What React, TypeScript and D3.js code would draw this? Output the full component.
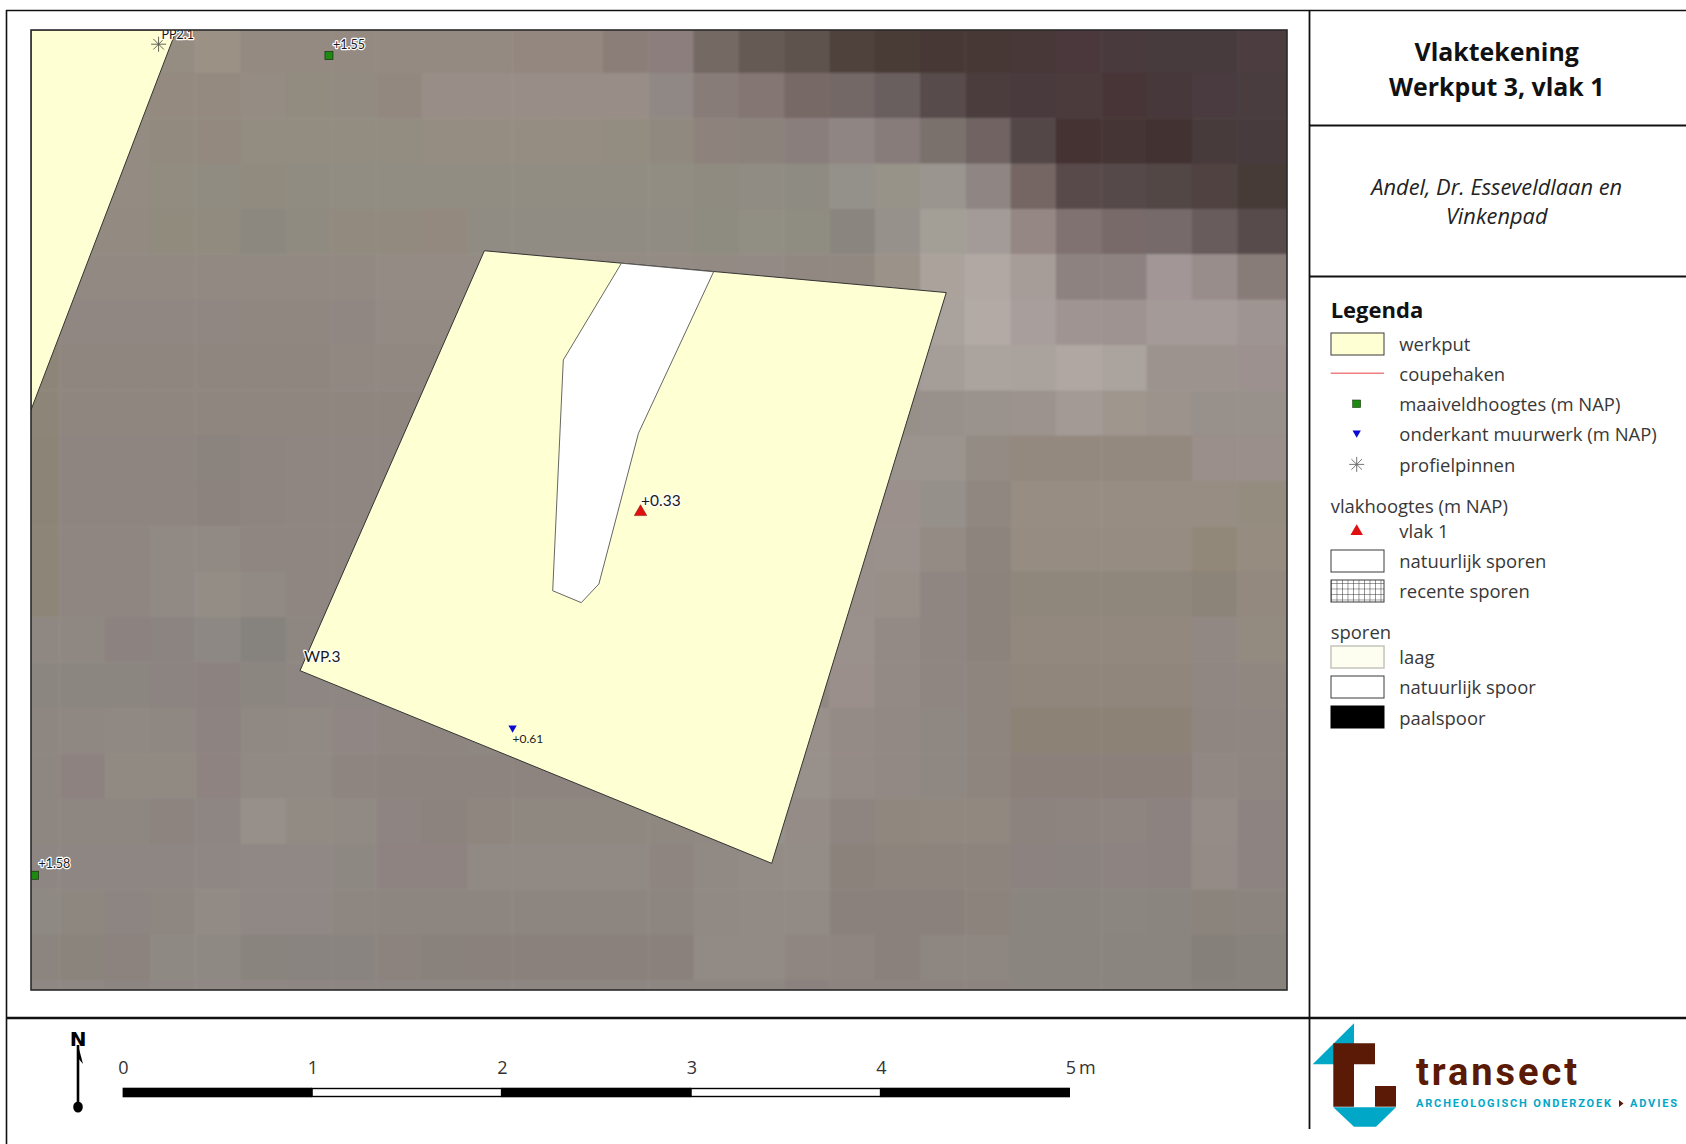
import React from "react";
import * as d3 from "d3";

// ---------- title panel text ----------
const titleLines = ["Vlaktekening", "Werkput 3, vlak 1"];
const subtitleLines = ["Andel, Dr. Esseveldlaan en", "Vinkenpad"];

// ---------- map geometry, metres within the map frame ----------
const mapWidthM = 6.635;
const mapHeightM = 5.071;
const werkputMain: [number, number][] = [[2.395, 3.905], [4.835, 3.684], [3.913, 0.669], [1.421, 1.687]];
const werkputWest: [number, number][] = [[0, 5.071], [0.768, 5.071], [0, 3.064]];
const naturalTrace: [number, number][] = [[3.119, 3.839], [3.606, 3.794], [3.209, 2.941], [3.0, 2.145], [2.907, 2.046], [2.756, 2.109], [2.812, 3.328]];
const maaiveldPoints = [{ x: 1.574, y: 4.936, label: "+1.55" }, { x: 0.018, y: 0.606, label: "+1.58" }];
const muurwerkPoints = [{ x: 2.544, y: 1.384, label: "+0.61" }];
const vlakPoints = [{ x: 3.22, y: 2.525, label: "+0.33" }];
const pinPoints = [{ x: 0.674, y: 4.996, label: "PP2.1" }];
const putLabels = [{ x: 1.442, y: 1.766, label: "WP.3" }];

// ---------- scale bar ----------
const scaleTicks = [0, 1, 2, 3, 4, 5];

// ---------- legend ----------
const legendTopEntries = ["werkput", "coupehaken", "maaiveldhoogtes (m NAP)", "onderkant muurwerk (m NAP)", "profielpinnen"];
const legendVlakEntries = ["vlak 1", "natuurlijk sporen", "recente sporen"];
const legendSporenEntries = ["laag", "natuurlijk spoor", "paalspoor"];

// ---------- background raster, one list per row of cells ----------
const r00 = ["#958c82","#958c82","#968d82","#968d82","#9b9185","#958a82","#958a82","#958a82","#958a82","#958a82","#958a82","#948780","#948780","#8b7e78","#8c7e7b","#756964","#665a55","#5f524d","#4f423e","#483a36","#473936","#463734","#483838","#4b393d","#493a3e","#463a3d","#463a3e","#4b3e41"];
const r01 = ["#958c82","#958c82","#958c82","#948a7f","#948a7f","#958c83","#918b80","#918b82","#938880","#988e87","#988e87","#988e87","#988e87","#988e87","#908884","#887c78","#837673","#766966","#736866","#6a5f5e","#594c4b","#4b3e3e","#4a3a3c","#4b3a3c","#473638","#47383a","#483b3f","#483c40"];
const r02 = ["#948b82","#948b82","#948b82","#928a7f","#93897f","#928c81","#928c81","#928c81","#928c81","#958d82","#958d82","#958d82","#958d82","#938c81","#90897f","#8e837c","#8c827c","#897e7b","#8f8582","#877c7a","#7a716d","#6f6462","#534746","#443232","#453534","#433332","#463a3b","#463b3e"];
const r03 = ["#948b82","#948b82","#948b82","#928c80","#918c81","#918a7f","#908c82","#918d83","#918d83","#918d83","#918d83","#918d83","#918d83","#918d83","#918d83","#8f8b81","#908c83","#8e8b82","#94908a","#979389","#9a968f","#8f8683","#746664","#594a4b","#544948","#524644","#4f4341","#463a38"];
const r04 = ["#938a82","#938a82","#938a82","#918b7e","#908b7e","#8c8880","#908b80","#928a7e","#928a7e","#94897f","#918c83","#918c83","#918c83","#918c83","#918c83","#8e8b80","#918e84","#8f8c82","#8a867f","#96918a","#a39f97","#a39b97","#958784","#7f7271","#776a69","#766a6a","#685c5d","#584c4c"];
const r05 = ["#918982","#918982","#918982","#918982","#918982","#918982","#918982","#918982","#948b84","#938b84","#938b84","#938b84","#938b84","#938b84","#938b84","#938a83","#948a85","#928882","#928882","#9b938a","#aaa29b","#b1a8a4","#a69c98","#8e8280","#8e8280","#a29696","#998d8b","#887b78"];
const r06 = ["#8f8680","#908782","#908782","#908782","#908782","#8f8780","#8f8780","#908782","#938a84","#938a84","#938a84","#938a84","#938a84","#938a84","#938a84","#938a84","#938a84","#938a84","#958b85","#a09790","#aaa29d","#b3aaa6","#a89e9b","#9f9491","#9e9390","#a49a98","#a49a98","#9e9491"];
const r07 = ["#8e8579","#8f8680","#8f8680","#8f8680","#8f8680","#8f8680","#8f8680","#918882","#918882","#918882","#918882","#918882","#918882","#918882","#918882","#918882","#918882","#918882","#969088","#9d958f","#a59d98","#aba39e","#aaa29d","#b0a6a2","#aba39e","#9d938e","#9d938e","#9c918f"];
const r08 = ["#8e8579","#8f8680","#8f8680","#8f8680","#8f8680","#8f8680","#8f8680","#8f8680","#8f8680","#8f8680","#8f8680","#8f8680","#8f8680","#8f8680","#8f8680","#8f8680","#8f8680","#8f8680","#928a84","#969089","#98908a","#9a928c","#9c938e","#a39a96","#9f968e","#9c938c","#98908a","#98908a"];
const r09 = ["#8d8478","#8e8580","#8e8580","#8e8580","#8b837d","#8e8580","#8f8681","#8f8681","#8f8681","#8f8681","#8f8681","#8f8681","#8f8681","#8f8681","#8f8681","#8f8681","#8f8681","#928a85","#958c87","#9b938d","#9b938d","#938b84","#94897e","#94897e","#94897e","#94897e","#9a8f8a","#9a8f8a"];
const r10 = ["#8d8478","#8e8580","#8e8580","#8e8580","#8c837e","#8e8580","#8f8681","#8f8681","#8f8681","#8f8681","#8f8681","#8f8681","#8f8681","#8f8681","#8f8681","#8f8681","#8f8681","#958c87","#9a908b","#9b908b","#96908a","#8f8780","#978d82","#978d82","#978d82","#978d82","#978d82","#958c80"];
const r11 = ["#8e8579","#8f8681","#8f8681","#918983","#918983","#8f8681","#8f8681","#8f8681","#8f8681","#8f8681","#8f8681","#8f8681","#8f8681","#8f8681","#8f8681","#8f8681","#8f8681","#958c87","#9a908b","#9b918c","#948b85","#8c847d","#968c81","#968c81","#968c81","#968c81","#918879","#968c80"];
const r12 = ["#8e8579","#8f8681","#8f8681","#918984","#948d86","#918984","#8f8681","#8f8681","#8f8681","#8f8681","#8f8681","#8f8681","#8f8681","#8f8681","#8f8681","#8f8681","#8f8681","#948b86","#9a908b","#988f89","#8f8681","#8c837c","#90877c","#90877c","#90877c","#90877c","#8d8479","#93897e"];
const r13 = ["#8f8882","#8f8882","#8c8380","#8b8481","#8d8883","#86827d","#8e8781","#8f8681","#8f8681","#8f8681","#8f8681","#8f8681","#8f8681","#8f8681","#8f8681","#8f8681","#8f8681","#928984","#9a908c","#938a85","#8f8681","#8c837c","#92887d","#92887d","#92887d","#92887d","#918884","#938a80"];
const r14 = ["#8c8680","#8c8680","#8c8680","#8b8481","#8c8280","#8c8681","#8d8682","#8d8682","#8d8581","#8d8581","#8d8581","#8d8581","#8d8581","#8d8581","#8d8581","#8d8581","#8f8682","#918884","#9a8f8b","#938a85","#8f8681","#8e857f","#90867b","#90867b","#90867b","#90867b","#908783","#908781"];
const r15 = ["#8e8680","#8f8781","#908882","#8f8781","#8d8380","#908882","#918983","#908683","#8f8682","#8e8580","#8e8681","#8e8681","#8e8681","#8e8681","#8e8681","#8f8782","#908883","#9a908b","#948a86","#928985","#8f8782","#8e857f","#8c8276","#8c8276","#8c8276","#8c8276","#8f8682","#8f8682"];
const r16 = ["#8e8680","#8e8281","#918a83","#918a83","#8e8380","#918a84","#918a84","#8e8480","#8d847f","#8d847f","#8d847f","#8d847f","#8d847f","#8d847f","#8d847f","#908883","#938b86","#97908b","#948a86","#928985","#8f8782","#8e857f","#8b807a","#8b807a","#8b807a","#8b807a","#918884","#8f8682"];
const r17 = ["#8e8680","#8e8680","#8e8680","#8d8480","#8d8682","#97908a","#918b84","#918a84","#8e8481","#8c837e","#908680","#8f8881","#8f8881","#8f8881","#8f8881","#908883","#94928c","#958c87","#8e8580","#90877f","#918880","#918880","#8c837f","#8d8480","#8e8581","#8c8380","#958c88","#8d8482"];
const r18 = ["#8e8682","#8e8682","#8e8682","#8e8682","#8f8783","#908884","#908884","#8e8883","#8e8381","#8e8381","#918983","#918983","#918983","#918983","#8e8580","#918983","#938b85","#948c86","#8b827c","#8d847e","#8d847e","#8d847e","#8c8380","#8b8380","#8d8481","#8c8380","#948b87","#8d8482"];
const r19 = ["#8e8983","#8e8780","#8c8581","#8e8680","#918a85","#8f8884","#8f8884","#8e8680","#8d8580","#8d8580","#8d8580","#8d8580","#8d8580","#8d8580","#8d8580","#918983","#928a84","#928a84","#8a817b","#8a817b","#8a817b","#8c837d","#8a857e","#8a857e","#8b867f","#8b857f","#8b847d","#8b847e"];
const r20 = ["#8c857f","#8b847c","#8c827e","#8f8984","#8f8984","#89847e","#8a8480","#8a8480","#8c837e","#89827b","#8a817c","#8a817c","#8a817c","#8a817c","#8a817c","#928a85","#928a85","#8f8681","#8e8580","#8a817c","#8e8680","#8e8680","#8a857e","#8a857e","#8a857e","#8a857e","#86807a","#88827c"];
const r21 = ["#8f8783","#8f8783","#8d8581","#8f8783","#908884","#8f8783","#8e8682","#8e8682","#8e8682","#8e8682","#8e8682","#8e8682","#8e8682","#8e8682","#8e8682","#8e8680","#8e8680","#8b8280","#8d8480","#8d8480","#8d8480","#8d8480","#8a857e","#8a857e","#8a857e","#8a857e","#88827c","#88827c"];
const rasterRows = [r00, r01, r02, r03, r04, r05, r06, r07, r08, r09, r10, r11, r12, r13, r14, r15, r16, r17, r18, r19, r20, r21];

// ---------- layout ----------
const W = 1686, H = 1144;
const MAP = { l: 31, r: 1287, t: 30, b: 990 };
const FONT = "'Open Sans', sans-serif";
const LABEL_FONT = "Lato, sans-serif";
const YELLOW = "#ffffd4";
const GREEN = "#1f8a12";
const BLUE = "#0a0ad0";
const RED = "#e01010";
const BROWN = "#5a1a05";
const CYAN = "#00a7c7";

const xM = d3.scaleLinear().domain([0, mapWidthM]).range([MAP.l, MAP.r]);
const yM = d3.scaleLinear().domain([0, mapHeightM]).range([MAP.b, MAP.t]);
const xCell = d3.scaleLinear().domain([0, 28]).range([14, 1282.4]);
const yCell = d3.scaleLinear().domain([0, 22]).range([27.5, 1025.2]);
const xBar = d3.scaleLinear().domain([0, 5]).range([122.6, 1070]);

const polyPath = d3.line<[number, number]>().x((d) => xM(d[0])).y((d) => yM(d[1])).curve(d3.curveLinearClosed);
const triUp = d3.symbol().type(d3.symbolTriangle);
const spoke = d3.lineRadial<[number, number]>();
function asteriskPath(r: number) {
  return d3.range(4).map((i) => {
    const a = (i * Math.PI) / 4;
    return spoke([[a, r], [a + Math.PI, r]]);
  }).join("");
}

const Halo = ({ x, y, size, children }: any) => (
  <text x={x} y={y} fontFamily={LABEL_FONT} fontSize={size} fill="#1a1a1a" stroke="#ffffff" strokeWidth={2.4}
    strokeLinejoin="round" style={{ paintOrder: "stroke" }} dominantBaseline="central">{children}</text>
);

const LegendText = ({ x = 1399.3, y, children }: any) => (
  <text x={x} y={y} fontFamily={FONT} fontSize={18.45} fill="#383838" dominantBaseline="central">{children}</text>
);

const Swatch = ({ y, h = 22, fill, stroke = "#3a3a3a", sw = 1 }: any) => (
  <rect x={1331} y={y} width={53} height={h} fill={fill} stroke={stroke} strokeWidth={sw} />
);

export default function App() {
  const topY = [343.7, 373, 403.8, 433.8, 464.4];
  const vlakY = [530.8, 560.8, 590.9];
  const sporenY = [656.8, 686.9, 717.4];
  return (
    <svg width={W} height={H} viewBox={`0 0 ${W} ${H}`} style={{ position: "absolute", left: 0, top: 0, background: "#fff" }}>
      <defs>
        <clipPath id="mapClip"><rect x={MAP.l} y={MAP.t} width={MAP.r - MAP.l} height={MAP.b - MAP.t} /></clipPath>
        <filter id="soft" x="-2%" y="-2%" width="104%" height="104%"><feGaussianBlur stdDeviation={0.8} /></filter>
        <pattern id="grid" width={5.5} height={5.5} patternUnits="userSpaceOnUse">
          <path d="M0 0H5.5M0 0V5.5" stroke="#333" strokeWidth={1} fill="none" />
        </pattern>
      </defs>

      {/* map */}
      <g clipPath="url(#mapClip)">
        <g filter="url(#soft)">
          {rasterRows.map((row, j) => row.map((c, i) => (
            <rect key={`${j}-${i}`} x={xCell(i)} y={yCell(j)} width={xCell(i + 1) - xCell(i) + (i === 27 ? 8 : 0.5)}
              height={yCell(j + 1) - yCell(j) + 0.5} fill={c} />
          )))}
        </g>
        <path d={polyPath(werkputWest)!} fill={YELLOW} stroke="#333" strokeWidth={1} />
        <path d={polyPath(werkputMain)!} fill={YELLOW} stroke="#333" strokeWidth={1} />
        <path d={polyPath(naturalTrace)!} fill="#ffffff" stroke="#555" strokeWidth={0.9} />

        {pinPoints.map((p) => (
          <g key={p.label}>
            <path d={asteriskPath(7.5)} transform={`translate(${xM(p.x)},${yM(p.y)})`} stroke="#55554a" strokeWidth={0.9} fill="none" />
            <Halo x={xM(p.x) + 3} y={yM(p.y) - 9.5} size={12.5}>{p.label}</Halo>
          </g>
        ))}
        {maaiveldPoints.map((p) => (
          <g key={p.label}>
            <rect x={xM(p.x) - 4} y={yM(p.y) - 4} width={8} height={8} fill={GREEN} stroke="#1c3a12" strokeWidth={0.8} />
            <Halo x={xM(p.x) + 4} y={yM(p.y) - 11.5} size={12.5}>{p.label}</Halo>
          </g>
        ))}
        {muurwerkPoints.map((p) => (
          <g key={p.label}>
            <path d={triUp.size(30)()!} transform={`translate(${xM(p.x)},${yM(p.y)}) rotate(180)`} fill={BLUE} />
            <text x={xM(p.x)} y={yM(p.y) + 11} fontFamily={LABEL_FONT} fontSize={12} fill="#222" dominantBaseline="central">{p.label}</text>
          </g>
        ))}
        {vlakPoints.map((p) => (
          <g key={p.label}>
            <path d={triUp.size(68)()!} transform={`translate(${xM(p.x)},${yM(p.y)})`} fill={RED} stroke="#7a1010" strokeWidth={0.5} />
            <Halo x={xM(p.x) + 0.5} y={yM(p.y) - 11.8} size={15.5}>{p.label}</Halo>
          </g>
        ))}
        {putLabels.map((p) => (
          <Halo key={p.label} x={xM(p.x)} y={yM(p.y)} size={15.5}>{p.label}</Halo>
        ))}
      </g>
      <rect x={MAP.l} y={MAP.t} width={MAP.r - MAP.l} height={MAP.b - MAP.t} fill="none" stroke="#2a2a2a" strokeWidth={1.6} />

      {/* frame */}
      <g stroke="#111" fill="none">
        <line x1={6.5} y1={10} x2={6.5} y2={H} strokeWidth={1.6} />
        <line x1={6} y1={10.5} x2={W} y2={10.5} strokeWidth={1.6} />
        <line x1={1309.5} y1={10} x2={1309.5} y2={1129} strokeWidth={1.8} />
        <line x1={1309} y1={125.5} x2={W} y2={125.5} strokeWidth={1.8} />
        <line x1={1309} y1={276.5} x2={W} y2={276.5} strokeWidth={1.8} />
        <line x1={6} y1={1018} x2={W} y2={1018} strokeWidth={2.6} />
      </g>

      {/* title */}
      {titleLines.map((t, i) => (
        <text key={t} x={1496.7} y={50.5 + i * 35.5} textAnchor="middle" dominantBaseline="central" fontFamily={FONT}
          fontWeight={700} fontSize={24.9} fill="#111">{t}</text>
      ))}
      {subtitleLines.map((t, i) => (
        <text key={t} x={1496.7} y={186 + i * 29.2} textAnchor="middle" dominantBaseline="central" fontFamily={FONT}
          fontStyle="italic" fontSize={21.8} fill="#222">{t}</text>
      ))}

      {/* legend */}
      <text x={1330.7} y={308.5} dominantBaseline="central" fontFamily={FONT} fontWeight={700} fontSize={22} fill="#111">Legenda</text>
      {legendTopEntries.map((t, i) => <LegendText key={t} y={topY[i]}>{t}</LegendText>)}
      <Swatch y={333} fill={YELLOW} />
      <line x1={1330.7} x2={1384} y1={373.2} y2={373.2} stroke="#f08080" strokeWidth={1.5} />
      <rect x={1352.7} y={400} width={8} height={7.5} fill={GREEN} stroke="#1c3a12" strokeWidth={0.6} />
      <path d={triUp.size(30)()!} transform={`translate(1356.7,433) rotate(180)`} fill={BLUE} />
      <path d={asteriskPath(7.5)} transform="translate(1356.7,464.4)" stroke="#666" strokeWidth={0.9} fill="none" />

      <LegendText x={1330.7} y={505}>vlakhoogtes (m NAP)</LegendText>
      {legendVlakEntries.map((t, i) => <LegendText key={t} y={vlakY[i]}>{t}</LegendText>)}
      <path d={triUp.size(68)()!} transform="translate(1356.7,531.5)" fill={RED} />
      <Swatch y={550} fill="#fff" />
      <Swatch y={580} fill="url(#grid)" />

      <LegendText x={1330.7} y={631.6}>sporen</LegendText>
      {legendSporenEntries.map((t, i) => <LegendText key={t} y={sporenY[i]}>{t}</LegendText>)}
      <Swatch y={646} fill="#fdfdf0" stroke="#c8c8c0" sw={1.6} />
      <Swatch y={676} fill="#fff" />
      <Swatch y={706} fill="#000" stroke="#000" />

      {/* north arrow */}
      <text x={78} y={1038.5} textAnchor="middle" dominantBaseline="central" fontFamily="'DejaVu Sans', sans-serif" fontWeight={700} fontSize={20} fill="#000">N</text>
      <line x1={78} x2={78} y1={1045} y2={1106} stroke="#000" strokeWidth={2.6} />
      <path d="M78 1045L83 1064L78 1058Z" fill="#000" />
      <ellipse cx={78} cy={1107} rx={4.8} ry={5.6} fill="#000" />

      {/* scale bar */}
      {scaleTicks.slice(0, -1).map((t) => (
        <rect key={t} x={xBar(t)} y={t % 2 === 0 ? 1087.7 : 1088.5} width={xBar(t + 1) - xBar(t)} height={t % 2 === 0 ? 9.6 : 8}
          fill={t % 2 === 0 ? "#000" : "#fff"} stroke={t % 2 === 0 ? "none" : "#000"} strokeWidth={1.4} />
      ))}
      {scaleTicks.map((t) => (
        <text key={t} x={xBar(t) + 0.8} y={1067} textAnchor="middle" dominantBaseline="central" fontFamily={FONT} fontSize={18} fill="#333">{t}</text>
      ))}
      <text x={xBar(5) + 9} y={1067} dominantBaseline="central" fontFamily={FONT} fontSize={18} fill="#333">m</text>

      {/* logo */}
      <path d="M1354 1023.3L1312.7 1064.3H1354Z" fill={CYAN} />
      <path d="M1333.3 1043.3H1375V1064.3H1354V1106.7H1333.3Z" fill={BROWN} />
      <rect x={1375} y={1086} width={21} height={20.7} fill={BROWN} />
      <path d="M1333.3 1107.3H1396L1376 1126.7H1354Z" fill={CYAN} />
      <text x={1416} y={1085} fontFamily="Roboto, sans-serif" fontWeight={700} fontSize={38} fill={BROWN} textLength={161} lengthAdjust="spacing">transect</text>
      <text x={1416} y={1107} fontFamily="Roboto, sans-serif" fontWeight={700} fontSize={11} fill={CYAN} textLength={195} lengthAdjust="spacing">ARCHEOLOGISCH ONDERZOEK</text>
      <path d="M1619 1100L1623.5 1103.5L1619 1107Z" fill={BROWN} />
      <text x={1630} y={1107} fontFamily="Roboto, sans-serif" fontWeight={700} fontSize={11} fill={CYAN} textLength={47} lengthAdjust="spacing">ADVIES</text>
    </svg>
  );
}
